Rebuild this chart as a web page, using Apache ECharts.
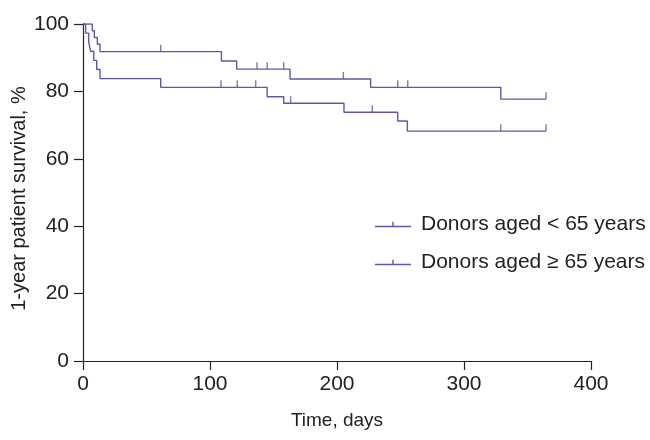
<!DOCTYPE html>
<html>
<head>
<meta charset="utf-8">
<script src="https://cdn.jsdelivr.net/npm/echarts@6/dist/echarts.min.js"></script>
<style>html,body{margin:0;padding:0;background:#fff}#c{width:650px;height:440px}</style>
</head>
<body>
<div id="c"></div>
<script>
// Series names
const seriesNames = ['Donors aged < 65 years', 'Donors aged \u2265 65 years'];

// Kaplan-Meier step points: [day, survival %] (value holds from that day onward)
const youngSteps = [[0, 100], [7.3, 98], [8.9, 96], [11.3, 94], [13.4, 91.8], [109, 89.0], [121, 86.6], [163, 83.7], [226.5, 81.2], [329, 77.7], [364.6, 77.7]];
const oldSteps = [[0, 100], [2.1, 97.3], [4.5, 94.6], [6, 91.9], [8.5, 89.2], [10.8, 86.5], [13.4, 83.8], [61.2, 81.2], [145, 78.4], [158, 76.5], [205.5, 73.8], [247.8, 71.2], [255.4, 68.2], [364.6, 68.2]];

// Censoring marks: [day, survival %]
const youngCensored = [[61.2, 91.8], [137, 86.6], [145, 86.6], [158, 86.6], [205, 83.7], [247.8, 81.2], [255.7, 81.2], [364.6, 77.7]];
const oldCensored = [[108.7, 81.2], [121.5, 81.2], [136, 81.2], [163.5, 76.5], [227.8, 73.8], [329, 68.2], [364.6, 68.2]];

// Axis ticks
const xTicks = { min: 0, max: 400, interval: 100 };
const yTicks = { min: 0, max: 100, interval: 20 };

const lineColor = '#5a5aa8';
const font = '"Liberation Sans", Arial, Helvetica, sans-serif';
const legendIcon = 'path://M0,9L36,9L36,10.4L0,10.4Z M17.3,5L18.7,5L18.7,10L17.3,10Z';

const chart = echarts.init(document.getElementById('c'), null, { renderer: 'canvas' });

function kmSeries(name, steps) {
  return {
    name: name, type: 'line', step: 'end', data: steps, showSymbol: false, symbol: 'none',
    lineStyle: { color: lineColor, width: 1.4 }, itemStyle: { color: lineColor },
    animation: false, z: 3
  };
}
function censorSeries(name, pts) {
  return {
    name: name, type: 'scatter', data: pts, symbol: 'rect', symbolSize: [1.4, 7], symbolOffset: [0, -3.5],
    itemStyle: { color: lineColor }, animation: false, z: 4
  };
}

chart.setOption({
  animation: false,
  textStyle: { fontFamily: font },
  grid: { left: 83, right: 59, top: 24, bottom: 79, containLabel: false, outerBoundsMode: 'none' },
  legend: {
    orient: 'vertical', left: 370, top: 209,
    itemWidth: 36, itemHeight: 10, itemGap: 17,
    data: seriesNames.map(n => ({ name: n, icon: legendIcon, itemStyle: { color: lineColor } })),
    textStyle: { fontSize: 21, color: '#222', fontFamily: font, padding: [0, 0, 0, 5] },
    selectedMode: false
  },
  xAxis: {
    type: 'value', min: xTicks.min, max: xTicks.max, interval: xTicks.interval,
    name: 'Time, days', nameLocation: 'middle', nameGap: 50, nameMoveOverlap: false,
    nameTextStyle: { fontSize: 19, color: '#222', fontFamily: font },
    axisLine: { show: true, onZero: false, lineStyle: { color: '#222', width: 1.2 } },
    axisTick: { show: true, length: 9, lineStyle: { color: '#222', width: 1.2 } },
    axisLabel: { fontSize: 21, color: '#222', margin: 13, fontFamily: font },
    splitLine: { show: false }
  },
  yAxis: {
    type: 'value', min: yTicks.min, max: yTicks.max, interval: yTicks.interval,
    name: '1-year patient survival, %', nameLocation: 'middle', nameGap: 54, nameRotate: 90, nameMoveOverlap: false,
    nameTextStyle: { fontSize: 20, color: '#222', fontFamily: font, padding: [0, 12, 0, 0] },
    axisLine: { show: true, lineStyle: { color: '#222', width: 1.2 } },
    axisTick: { show: true, length: 9, lineStyle: { color: '#222', width: 1.2 } },
    axisLabel: { fontSize: 21, color: '#222', margin: 14, fontFamily: font },
    splitLine: { show: false }
  },
  series: [
    kmSeries(seriesNames[0], youngSteps),
    kmSeries(seriesNames[1], oldSteps),
    censorSeries(seriesNames[0], youngCensored),
    censorSeries(seriesNames[1], oldCensored)
  ]
});
</script>
</body>
</html>
